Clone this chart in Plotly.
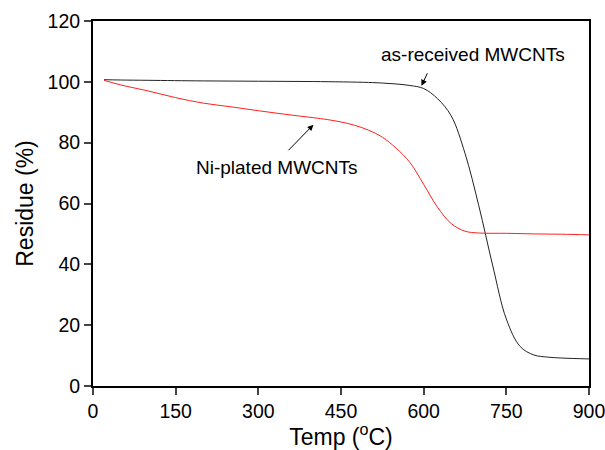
import plotly.graph_objects as go

# As-received MWCNTs (black)
temp_asrec = [20, 50, 100, 200, 300, 400, 500, 525, 550, 575, 600, 625, 650, 675, 700, 725, 750, 775, 800, 825, 850, 900]
res_asrec = [100.7, 100.6, 100.5, 100.3, 100.2, 100.1, 99.8, 99.6, 99.3, 98.8, 97.8, 94.5, 88.8, 76.5, 59.3, 39.8, 22, 13, 10.2, 9.5, 9.2, 8.9]

# Ni-plated MWCNTs (red)
temp_ni = [20, 50, 100, 150, 200, 250, 300, 350, 400, 425, 450, 475, 500, 525, 550, 575, 600, 625, 650, 675, 700, 750, 800, 850, 900]
res_ni = [100.5, 99, 97, 94.8, 93, 91.8, 90.5, 89.3, 88.2, 87.6, 86.8, 85.7, 84.1, 81.8, 78.2, 73.5, 66.3, 58.8, 53.4, 50.9, 50.3, 50.2, 50.0, 49.9, 49.7]

x_ticks = [0, 150, 300, 450, 600, 750, 900]
y_ticks = [0, 20, 40, 60, 80, 100, 120]

FONT = "Liberation Sans, Arial, sans-serif"

fig = go.Figure()
fig.add_trace(go.Scatter(x=temp_asrec, y=res_asrec, mode="lines",
                         line=dict(color="#222222", width=1, shape="spline", smoothing=1.0),
                         showlegend=False))
fig.add_trace(go.Scatter(x=temp_ni, y=res_ni, mode="lines",
                         line=dict(color="#ff2020", width=1, shape="spline", smoothing=1.0),
                         showlegend=False))

fig.add_annotation(x=690, y=109, text="as-received MWCNTs", showarrow=False,
                   font=dict(size=19, color="black", family=FONT))
fig.add_annotation(x=596, y=98.7, ax=608, ay=103.3, xref="x", yref="y", axref="x", ayref="y",
                   text="", showarrow=True, arrowhead=2, arrowsize=1.2, arrowwidth=1, arrowcolor="black")
fig.add_annotation(x=334, y=72, text="Ni-plated MWCNTs", showarrow=False,
                   font=dict(size=19, color="black", family=FONT))
fig.add_annotation(x=400, y=85.9, ax=352, ay=77, xref="x", yref="y", axref="x", ayref="y",
                   text="", showarrow=True, arrowhead=2, arrowsize=1.2, arrowwidth=1, arrowcolor="black")

fig.update_xaxes(range=[0, 900], tickvals=x_ticks, ticks="outside", ticklen=7, tickwidth=1.5,
                 showline=True, linewidth=2, linecolor="black", mirror=True, showgrid=False, zeroline=False,
                 automargin=False, ticklabeloverflow="allow",
                 tickfont=dict(size=19.5, family=FONT, color="black"),
                 title=dict(text="Temp (<sup>o</sup>C)", font=dict(size=23, family=FONT, color="black"), standoff=6))
fig.update_yaxes(range=[0, 120], tickvals=y_ticks, ticks="outside", ticklen=7, tickwidth=1.5,
                 showline=True, linewidth=2, linecolor="black", mirror=True, showgrid=False, zeroline=False,
                 automargin=False, ticklabeloverflow="allow",
                 tickfont=dict(size=19.5, family=FONT, color="black"),
                 title=dict(text="Residue (%)", font=dict(size=23, family=FONT, color="black"), standoff=8))

fig.update_layout(width=605, height=450, margin=dict(l=93, r=16, t=21, b=64),
                  paper_bgcolor="white", plot_bgcolor="white", font=dict(family=FONT))

fig.write_html("out.html", config={"displayModeBar": False},
               post_script="document.body.style.margin='0';document.body.style.overflow='hidden';")
